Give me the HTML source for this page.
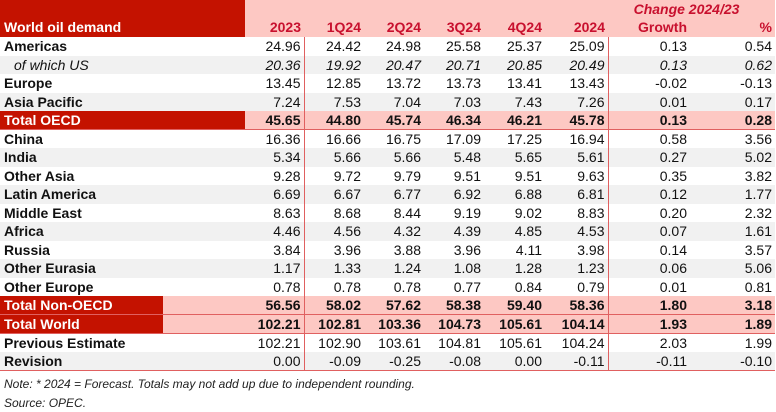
<!DOCTYPE html>
<html><head><meta charset="utf-8"><style>
body{margin:0;width:776px;height:412px;background:#fff;font-family:"Liberation Sans",Arial,sans-serif;position:relative;overflow:hidden}
table{position:absolute;left:0;top:0;border-collapse:collapse;table-layout:fixed;width:775px}
td{padding:0 3px 0 0;font-size:14px;text-align:right;white-space:nowrap;height:18.5px;line-height:16px;color:#111;box-sizing:border-box}
td:first-child{text-align:left;font-weight:bold;padding-left:4px}
.hd td{color:#c8102e;font-weight:bold;background:#fdc8c3}
.hd td:first-child{background:#c41200;color:#fff;font-size:14px}
.g td{background:#f1f1f1}
.it td{font-style:italic}
.it td:first-child{font-weight:normal;padding-left:14px}
.tot td{font-weight:bold;background:#fdc8c3;border-bottom:1px solid #e06060}
.tot td:first-child{background:linear-gradient(to right,#c41200 163px,#fdc8c3 163px);color:#fff;font-size:14px}
.c7{border-right:1.5px solid #e06060}
.c1{border-right:1.5px solid #e06060}
.note{position:absolute;left:4px;font-size:12px;font-style:italic;color:#222}
</style></head><body>
<table>
<colgroup><col style="width:245px"><col style="width:59px"><col style="width:60px"><col style="width:60px"><col style="width:60px"><col style="width:61px"><col style="width:63px"><col style="width:82px"><col style="width:85px"></colgroup>
<tr class="hd"><td style="height:16px;line-height:15px"></td><td style="height:16px"></td><td></td><td></td><td></td><td></td><td></td><td colspan="2" style="text-align:center;font-style:italic;padding-right:10px;height:16px;line-height:15px">Change 2024/23</td></tr>
<tr class="hd"><td style="height:16px;line-height:15px">World oil demand</td><td style="height:16px;line-height:15px">2023</td><td style="line-height:15px">1Q24</td><td style="line-height:15px">2Q24</td><td style="line-height:15px">3Q24</td><td style="line-height:15px">4Q24</td><td style="line-height:15px">2024</td><td style="line-height:15px">Growth</td><td style="line-height:15px">%</td></tr>
<tr><td>Americas</td><td class="c1">24.96</td><td>24.42</td><td>24.98</td><td>25.58</td><td>25.37</td><td class="c7">25.09</td><td>0.13</td><td>0.54</td></tr>
<tr class="g it"><td>of which US</td><td class="c1">20.36</td><td>19.92</td><td>20.47</td><td>20.71</td><td>20.85</td><td class="c7">20.49</td><td>0.13</td><td>0.62</td></tr>
<tr><td>Europe</td><td class="c1">13.45</td><td>12.85</td><td>13.72</td><td>13.73</td><td>13.41</td><td class="c7">13.43</td><td>-0.02</td><td>-0.13</td></tr>
<tr class="g"><td>Asia Pacific</td><td class="c1">7.24</td><td>7.53</td><td>7.04</td><td>7.03</td><td>7.43</td><td class="c7">7.26</td><td>0.01</td><td>0.17</td></tr>
<tr class="tot"><td style="background:#c41200">Total OECD</td><td class="c1">45.65</td><td>44.80</td><td>45.74</td><td>46.34</td><td>46.21</td><td class="c7">45.78</td><td>0.13</td><td>0.28</td></tr>
<tr><td>China</td><td class="c1">16.36</td><td>16.66</td><td>16.75</td><td>17.09</td><td>17.25</td><td class="c7">16.94</td><td>0.58</td><td>3.56</td></tr>
<tr class="g"><td>India</td><td class="c1">5.34</td><td>5.66</td><td>5.66</td><td>5.48</td><td>5.65</td><td class="c7">5.61</td><td>0.27</td><td>5.02</td></tr>
<tr><td>Other Asia</td><td class="c1">9.28</td><td>9.72</td><td>9.79</td><td>9.51</td><td>9.51</td><td class="c7">9.63</td><td>0.35</td><td>3.82</td></tr>
<tr class="g"><td>Latin America</td><td class="c1">6.69</td><td>6.67</td><td>6.77</td><td>6.92</td><td>6.88</td><td class="c7">6.81</td><td>0.12</td><td>1.77</td></tr>
<tr><td>Middle East</td><td class="c1">8.63</td><td>8.68</td><td>8.44</td><td>9.19</td><td>9.02</td><td class="c7">8.83</td><td>0.20</td><td>2.32</td></tr>
<tr class="g"><td>Africa</td><td class="c1">4.46</td><td>4.56</td><td>4.32</td><td>4.39</td><td>4.85</td><td class="c7">4.53</td><td>0.07</td><td>1.61</td></tr>
<tr><td>Russia</td><td class="c1">3.84</td><td>3.96</td><td>3.88</td><td>3.96</td><td>4.11</td><td class="c7">3.98</td><td>0.14</td><td>3.57</td></tr>
<tr class="g"><td>Other Eurasia</td><td class="c1">1.17</td><td>1.33</td><td>1.24</td><td>1.08</td><td>1.28</td><td class="c7">1.23</td><td>0.06</td><td>5.06</td></tr>
<tr><td>Other Europe</td><td class="c1">0.78</td><td>0.78</td><td>0.78</td><td>0.77</td><td>0.84</td><td class="c7">0.79</td><td>0.01</td><td>0.81</td></tr>
<tr class="tot"><td>Total Non-OECD</td><td class="c1">56.56</td><td>58.02</td><td>57.62</td><td>58.38</td><td>59.40</td><td class="c7">58.36</td><td>1.80</td><td>3.18</td></tr>
<tr class="tot"><td>Total World</td><td class="c1">102.21</td><td>102.81</td><td>103.36</td><td>104.73</td><td>105.61</td><td class="c7">104.14</td><td>1.93</td><td>1.89</td></tr>
<tr><td>Previous Estimate</td><td class="c1">102.21</td><td>102.90</td><td>103.61</td><td>104.81</td><td>105.61</td><td class="c7">104.24</td><td>2.03</td><td>1.99</td></tr>
<tr class="g"><td style="border-bottom:1px solid #e06060">Revision</td><td class="c1" style="border-bottom:1px solid #e06060">0.00</td><td style="border-bottom:1px solid #e06060">-0.09</td><td style="border-bottom:1px solid #e06060">-0.25</td><td style="border-bottom:1px solid #e06060">-0.08</td><td style="border-bottom:1px solid #e06060">0.00</td><td class="c7" style="border-bottom:1px solid #e06060">-0.11</td><td style="border-bottom:1px solid #e06060">-0.11</td><td style="border-bottom:1px solid #e06060">-0.10</td></tr>
</table>
<div class="note" style="top:377px">Note: * 2024 = Forecast. Totals may not add up due to independent rounding.</div>
<div class="note" style="top:396px">Source: OPEC.</div>
</body></html>
